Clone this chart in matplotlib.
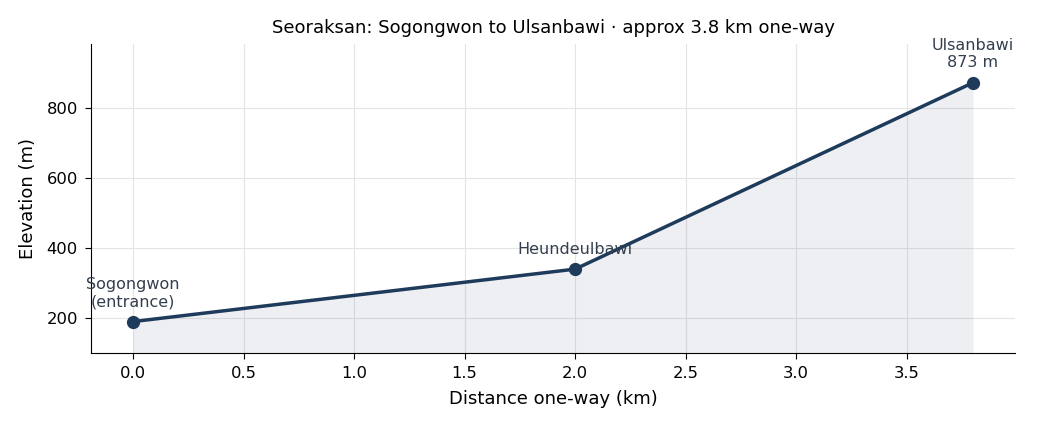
import matplotlib
matplotlib.use('Agg')
import matplotlib.pyplot as plt

# trail profile
distance_km = [0.0, 2.0, 3.8]
elevation_m = [190, 340, 873]
point_labels = ['Sogongwon\n(entrance)', 'Heundeulbawi', 'Ulsanbawi\n873 m']
y_ticks = [200, 400, 600, 800]

LINE = '#1f3b5b'
TEXT = '#333f4f'

fig, ax = plt.subplots(figsize=(10.4, 4.29), dpi=100)

ymin = 100
ax.fill_between(distance_km, elevation_m, ymin, color=LINE, alpha=0.08, linewidth=0)
ax.plot(distance_km, elevation_m, color=LINE, linewidth=2.5, marker='o', markersize=8.5)

for x, y, lab in zip(distance_km, elevation_m, point_labels):
    ax.annotate(lab, (x, y), xytext=(0, 9), textcoords='offset points',
                ha='center', va='bottom', fontsize=11.5, color=TEXT,
                multialignment='center')

ax.set_ylim(ymin, 983)
ax.set_yticks(y_ticks)
ax.set_title('Seoraksan: Sogongwon to Ulsanbawi \u00b7 approx 3.8 km one-way',
             fontsize=13, pad=8)
ax.set_xlabel('Distance one-way (km)', fontsize=13, labelpad=6)
ax.set_ylabel('Elevation (m)', fontsize=13, labelpad=7)
ax.grid(True, color='#e4e4e4', linewidth=0.8)
ax.set_axisbelow(True)
for s in ('top', 'right'):
    ax.spines[s].set_visible(False)
ax.tick_params(labelsize=11.8, length=4, pad=5.5)

fig.subplots_adjust(left=0.0875, right=0.976, top=0.897, bottom=0.177)
fig.savefig('out.png', dpi=100)
